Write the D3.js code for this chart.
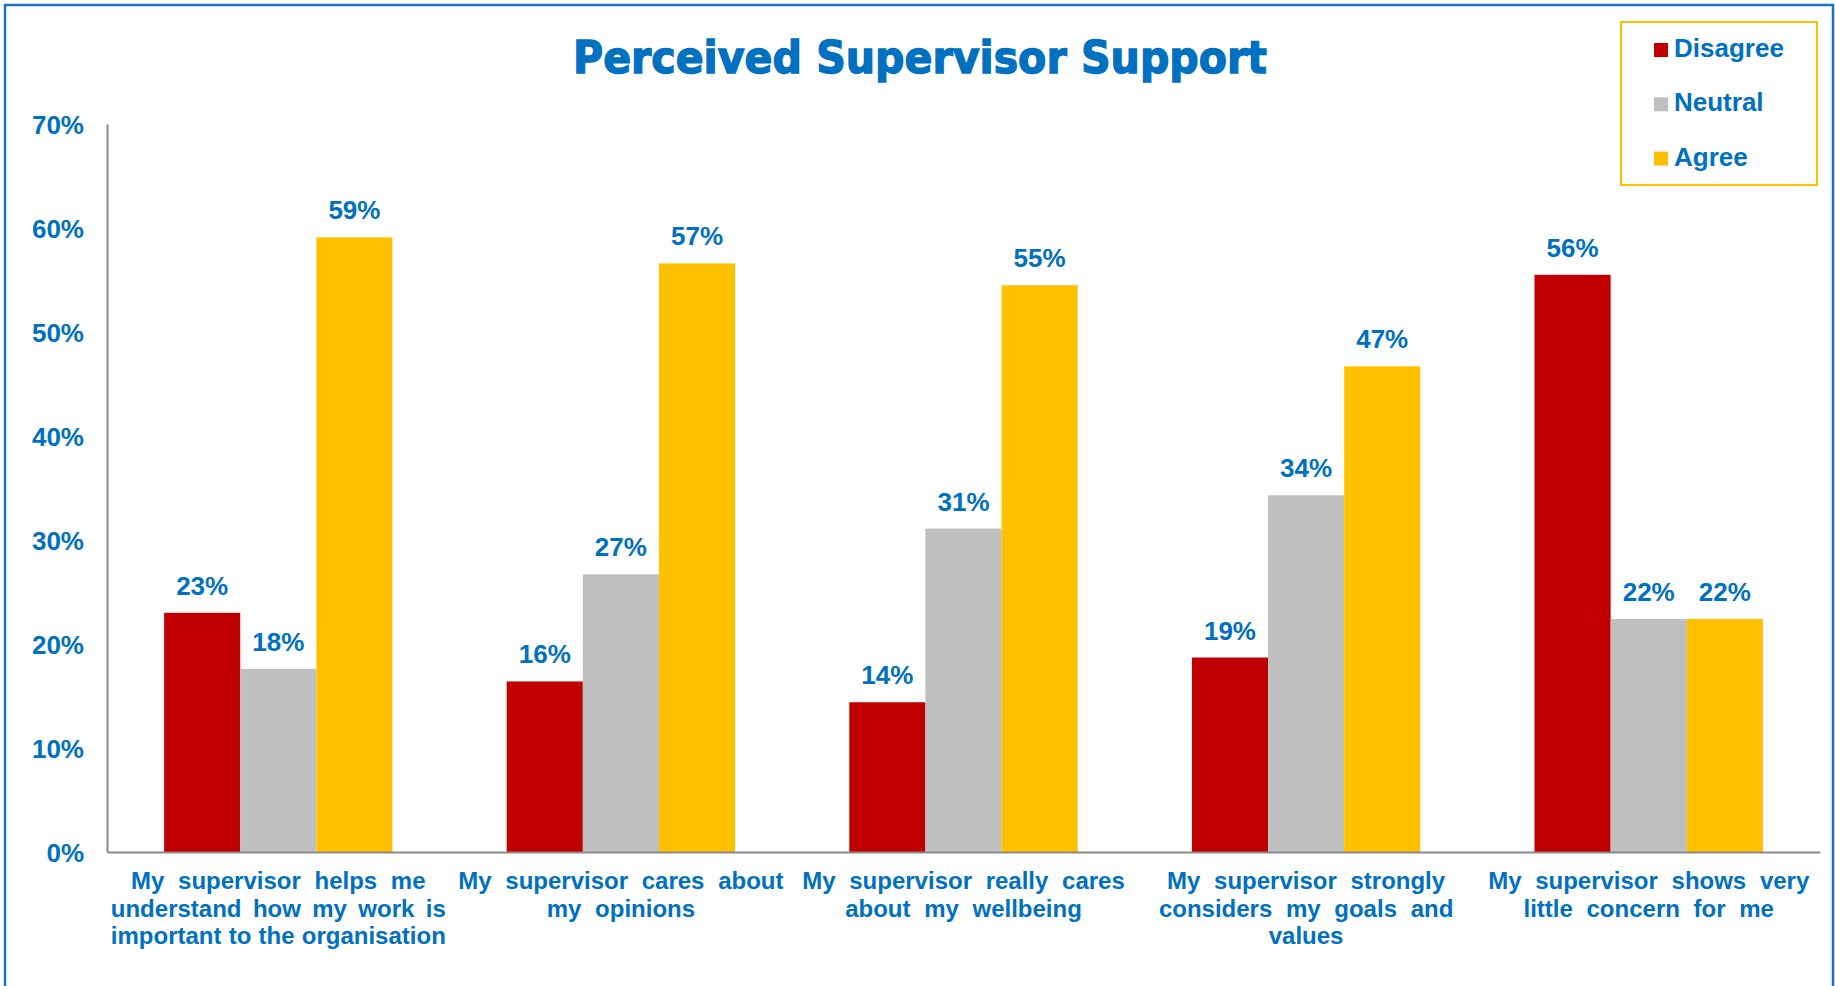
<!DOCTYPE html>
<html>
<head>
<meta charset="utf-8">
<script src="https://cdn.jsdelivr.net/npm/d3@7"></script>
<style>
  html, body { margin: 0; padding: 0; background: #ffffff; }
  svg { display: block; }
</style>
</head>
<body>
<svg id="chart" width="1835" height="986"></svg>
<script>
// Survey results: share of respondents per answer, in percent
const categories = [
  ["My supervisor helps me", "understand how my work is", "important to the organisation"],
  ["My supervisor cares about", "my opinions"],
  ["My supervisor really cares", "about my wellbeing"],
  ["My supervisor strongly", "considers my goals and", "values"],
  ["My supervisor shows very", "little concern for me"]
];
const seriesNames = ["Disagree", "Neutral", "Agree"];
const disagree = [23.0, 16.4, 14.4, 18.7, 55.5];
const neutral  = [17.6, 26.7, 31.1, 34.3, 22.4];
const agree    = [59.1, 56.6, 54.5, 46.7, 22.4];
const yTicks = [0, 10, 20, 30, 40, 50, 60, 70];
const title = "Perceived Supervisor Support";

const colors = { Disagree: "#C00000", Neutral: "#BFBFBF", Agree: "#FFC000" };
const blue = "#0070C0";
const font = "'Liberation Sans', Arial, sans-serif";

const svg = d3.select("#chart");
const W = 1835, H = 986;
svg.append("rect").attr("width", W).attr("height", H).attr("fill", "#fff");

// chart frame
svg.append("rect")
  .attr("x", 5).attr("y", 5).attr("width", 1828).attr("height", 1000)
  .attr("fill", "none").attr("stroke", "#1a73c4").attr("stroke-width", 2.5);

const plot = { left: 107, right: 1820, top: 124, bottom: 852 };

const catKeys = categories.map((c, i) => i);
const x0 = d3.scaleBand().domain(catKeys)
  .range([plot.left, plot.right])
  .paddingInner(1 / 3).paddingOuter(1 / 6);
const x1 = d3.scaleBand().domain(seriesNames).range([0, x0.bandwidth()]);
const y = d3.scaleLinear().domain([0, 70]).range([plot.bottom, plot.top]);

const rows = catKeys.map(i => ({
  i,
  values: [
    { key: "Disagree", v: disagree[i] },
    { key: "Neutral", v: neutral[i] },
    { key: "Agree", v: agree[i] }
  ]
}));

// bars
const groups = svg.append("g").selectAll("g").data(rows).join("g")
  .attr("transform", d => `translate(${x0(d.i)},0)`);
groups.selectAll("rect").data(d => d.values).join("rect")
  .attr("x", d => x1(d.key))
  .attr("y", d => y(d.v))
  .attr("width", x1.bandwidth())
  .attr("height", d => y(0) - y(d.v))
  .attr("fill", d => colors[d.key]);

// value labels
groups.selectAll("text").data(d => d.values).join("text")
  .attr("x", d => x1(d.key) + x1.bandwidth() / 2)
  .attr("y", d => y(d.v) - 18)
  .attr("text-anchor", "middle")
  .attr("font-family", font)
  .attr("font-weight", "bold")
  .attr("font-size", 26)
  .attr("fill", blue)
  .text(d => Math.round(d.v) + "%");

// y axis
const yAxis = d3.axisLeft(y).tickValues(yTicks).tickSize(0).tickPadding(23)
  .tickFormat(d => d + "%");
const yg = svg.append("g").attr("transform", `translate(${plot.left},0)`).call(yAxis);
yg.select(".domain").attr("stroke", "#898989").attr("stroke-width", 2);
yg.selectAll("text")
  .attr("font-family", font)
  .attr("font-weight", "bold")
  .attr("font-size", 26)
  .attr("fill", blue)
  .attr("dy", "0.36em");

// x axis baseline
const xAxis = d3.axisBottom(x0).tickSize(0).tickFormat("");
const xg = svg.append("g").attr("transform", `translate(0,${plot.bottom})`).call(xAxis);
xg.select(".domain").attr("stroke", "#898989").attr("stroke-width", 2);

// category labels, with widened word gaps up to a maximum line width
const labelSize = 24;
const lineGap = 27.5;
const maxLineWidth = 335;
const extraGap = 7;

const labels = svg.append("g");
categories.forEach((lines, i) => {
  const cx = x0(i) + x0.bandwidth() / 2;
  const g = labels.append("g").attr("transform", `translate(${cx},0)`);
  lines.forEach((ln, j) => {
    const t = g.append("text")
      .attr("x", 0)
      .attr("y", 889 + j * lineGap)
      .attr("text-anchor", "middle")
      .attr("font-family", font)
      .attr("font-weight", "bold")
      .attr("font-size", labelSize)
      .attr("fill", blue)
      .text(ln);
    const gaps = ln.split(" ").length - 1;
    if (gaps > 0) {
      const natural = t.node().getComputedTextLength();
      const room = (maxLineWidth - natural) / gaps;
      t.attr("word-spacing", Math.max(0, Math.min(extraGap, room)));
    }
  });
});

// title
svg.append("text")
  .attr("x", 920).attr("y", 73)
  .attr("text-anchor", "middle")
  .attr("font-family", "'DejaVu Sans', 'Liberation Sans', sans-serif")
  .attr("font-weight", "bold")
  .attr("font-size", 44)
  .attr("fill", blue)
  .attr("stroke", blue)
  .attr("stroke-width", 1.4)
  .attr("textLength", 694)
  .attr("lengthAdjust", "spacingAndGlyphs")
  .text(title);

// legend
const legend = svg.append("g");
legend.append("rect")
  .attr("x", 1621).attr("y", 22).attr("width", 196).attr("height", 163)
  .attr("fill", "#fff").attr("stroke", "#FFC000").attr("stroke-width", 2);
const li = legend.selectAll("g.item").data(seriesNames).join("g")
  .attr("class", "item")
  .attr("transform", (d, i) => `translate(1654,${43 + i * 54.3})`);
li.append("rect").attr("width", 14).attr("height", 14).attr("fill", d => colors[d]);
li.append("text")
  .attr("x", 20).attr("y", 14)
  .attr("font-family", font)
  .attr("font-weight", "bold")
  .attr("font-size", 26)
  .attr("fill", blue)
  .text(d => d);
</script>
</body>
</html>
